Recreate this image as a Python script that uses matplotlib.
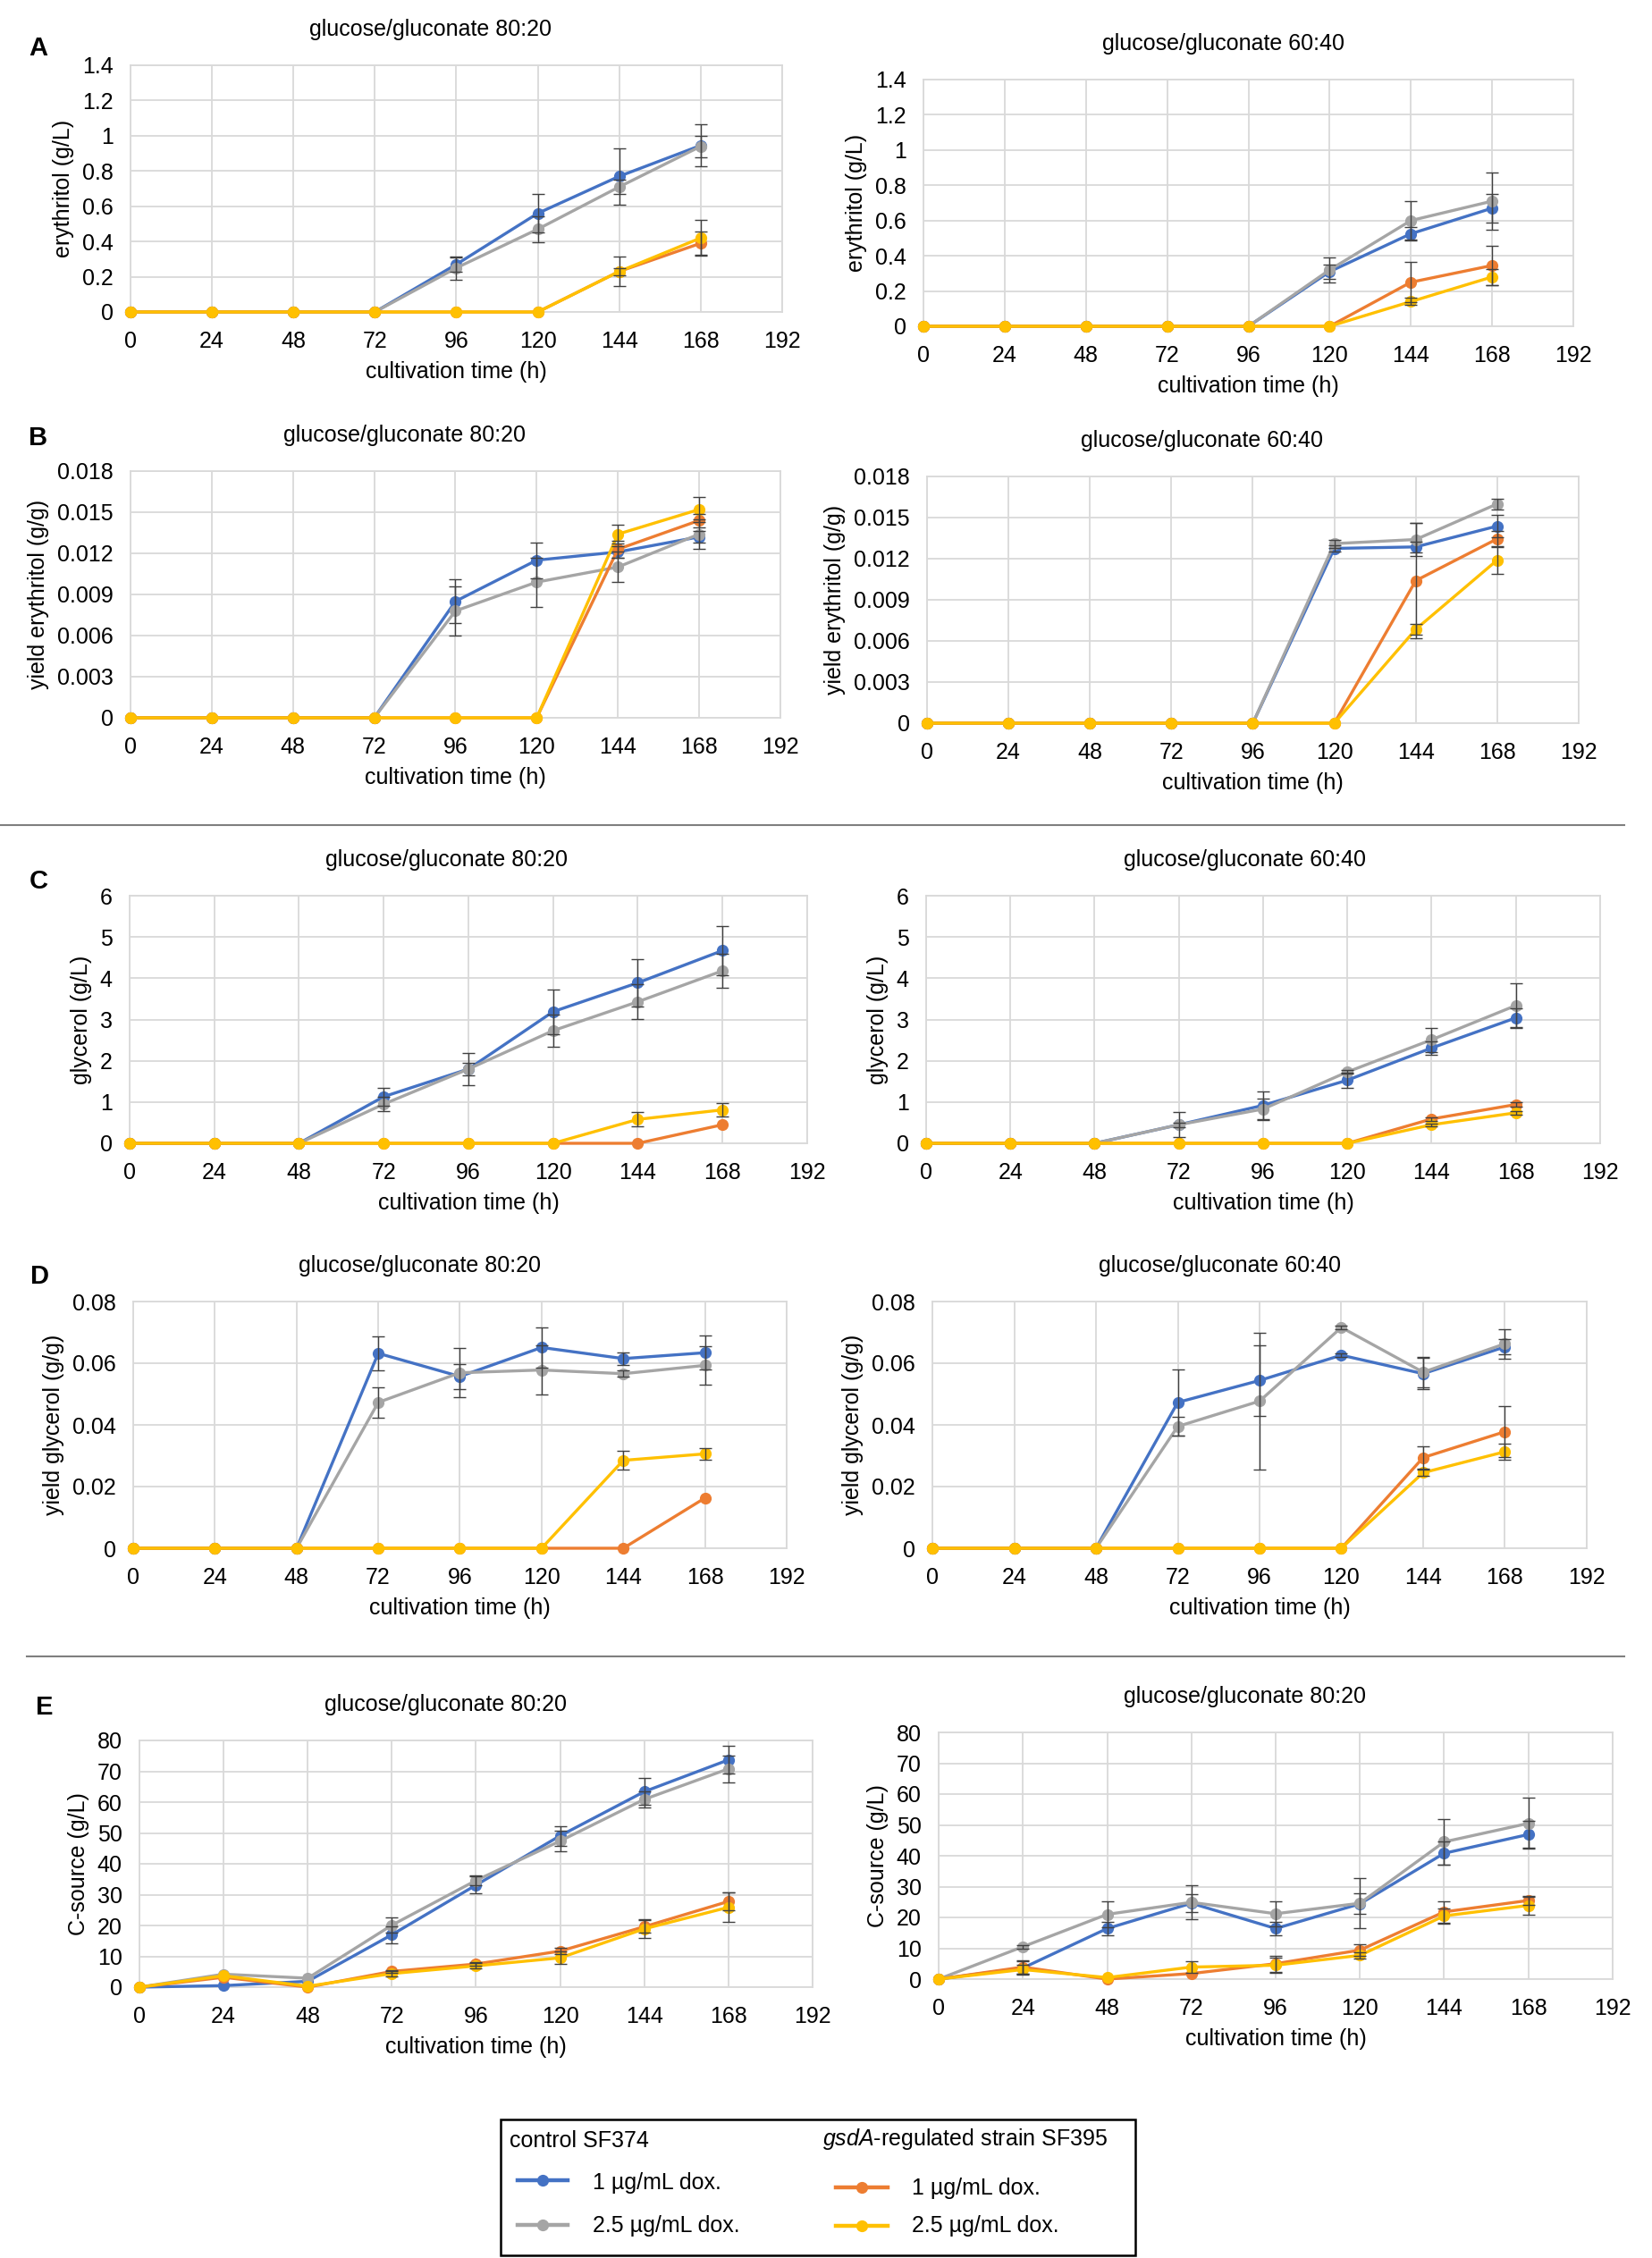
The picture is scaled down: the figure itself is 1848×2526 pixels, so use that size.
import numpy as np
import matplotlib
matplotlib.use('Agg')
import matplotlib.pyplot as plt
from matplotlib.lines import Line2D
from matplotlib.patches import Rectangle

plt.rcParams['font.family'] = ['Liberation Sans', 'DejaVu Sans']
plt.rcParams['mathtext.fontset'] = 'custom'
plt.rcParams['mathtext.it'] = 'Liberation Sans:italic'
plt.rcParams['mathtext.rm'] = 'Liberation Sans'

# ---- data: rows = control 1, control 2.5, gsdA 1, gsdA 2.5 (ug/mL dox.) ----
hours = [0, 24, 48, 72, 96, 120, 144, 168]
series_labels = ['1 µg/mL dox.', '2.5 µg/mL dox.', '1 µg/mL dox.', '2.5 µg/mL dox.']
colors = ['#4472C4', '#A5A5A5', '#ED7D31', '#FFC000']

ery_8020 = [[0, 0, 0, 0, 0.27, 0.56, 0.77, 0.945],
            [0, 0, 0, 0, 0.25, 0.47, 0.71, 0.94],
            [0, 0, 0, 0, 0, 0, 0.23, 0.39],
            [0, 0, 0, 0, 0, 0, 0.23, 0.42]]
ery_8020_sd = [[0, 0, 0, 0, 0.04, 0.11, 0.16, 0.12],
               [0, 0, 0, 0, 0.065, 0.075, 0.04, 0.06],
               [0, 0, 0, 0, 0, 0, 0.02, 0.065],
               [0, 0, 0, 0, 0, 0, 0.085, 0.10]]

ery_6040 = [[0, 0, 0, 0, 0, 0.31, 0.525, 0.67],
            [0, 0, 0, 0, 0, 0.32, 0.60, 0.71],
            [0, 0, 0, 0, 0, 0, 0.25, 0.345],
            [0, 0, 0, 0, 0, 0, 0.14, 0.28]]
ery_6040_sd = [[0, 0, 0, 0, 0, 0.04, 0.04, 0.08],
               [0, 0, 0, 0, 0, 0.07, 0.11, 0.16],
               [0, 0, 0, 0, 0, 0, 0.115, 0.11],
               [0, 0, 0, 0, 0, 0, 0.02, 0.045]]

yery_8020 = [[0, 0, 0, 0, 0.0085, 0.0115, 0.0121, 0.0132],
             [0, 0, 0, 0, 0.0078, 0.0099, 0.0110, 0.0134],
             [0, 0, 0, 0, 0, 0, 0.0123, 0.0144],
             [0, 0, 0, 0, 0, 0, 0.0134, 0.0152]]
yery_8020_sd = [[0, 0, 0, 0, 0.0016, 0.0013, 0.0004, 0.0004],
                [0, 0, 0, 0, 0.0018, 0.0018, 0.0011, 0.0011],
                [0, 0, 0, 0, 0, 0, 0.0006, 0.0005],
                [0, 0, 0, 0, 0, 0, 0.0007, 0.0009]]

yery_6040 = [[0, 0, 0, 0, 0, 0.01275, 0.01286, 0.01438],
             [0, 0, 0, 0, 0, 0.0131, 0.0134, 0.0160],
             [0, 0, 0, 0, 0, 0, 0.0104, 0.01345],
             [0, 0, 0, 0, 0, 0, 0.00685, 0.0119]]
yery_6040_sd = [[0, 0, 0, 0, 0, 0.0002, 0.0004, 0.0008],
                [0, 0, 0, 0, 0, 0.0003, 0.0012, 0.0004],
                [0, 0, 0, 0, 0, 0, 0.0042, 0.0006],
                [0, 0, 0, 0, 0, 0, 0.0004, 0.0010]]

gly_8020 = [[0, 0, 0, 1.13, 1.80, 3.19, 3.89, 4.67],
            [0, 0, 0, 0.95, 1.80, 2.73, 3.43, 4.18],
            [0, 0, 0, 0, 0, 0, 0, 0.45],
            [0, 0, 0, 0, 0, 0, 0.58, 0.81]]
gly_8020_sd = [[0, 0, 0, 0.22, 0.15, 0.54, 0.57, 0.59],
               [0, 0, 0, 0.18, 0.39, 0.39, 0.42, 0.42],
               [0, 0, 0, 0, 0, 0, 0, 0],
               [0, 0, 0, 0, 0, 0, 0.17, 0.16]]

gly_6040 = [[0, 0, 0, 0.45, 0.92, 1.53, 2.31, 3.04],
            [0, 0, 0, 0.45, 0.83, 1.73, 2.51, 3.34],
            [0, 0, 0, 0, 0, 0, 0.59, 0.94],
            [0, 0, 0, 0, 0, 0, 0.45, 0.74]]
gly_6040_sd = [[0, 0, 0, 0.05, 0.34, 0.18, 0.16, 0.22],
               [0, 0, 0, 0.30, 0.26, 0.05, 0.29, 0.54],
               [0, 0, 0, 0, 0, 0, 0.04, 0.05],
               [0, 0, 0, 0, 0, 0, 0.03, 0.04]]

ygly_8020 = [[0, 0, 0, 0.0632, 0.0557, 0.0651, 0.0615, 0.0634],
             [0, 0, 0, 0.0473, 0.0569, 0.0578, 0.0566, 0.0593],
             [0, 0, 0, 0, 0, 0, 0, 0.0163],
             [0, 0, 0, 0, 0, 0, 0.0285, 0.0306]]
ygly_8020_sd = [[0, 0, 0, 0.0055, 0.004, 0.0065, 0.002, 0.0055],
                [0, 0, 0, 0.005, 0.008, 0.008, 0.001, 0.0062],
                [0, 0, 0, 0, 0, 0, 0, 0],
                [0, 0, 0, 0, 0, 0, 0.003, 0.0019]]

ygly_6040 = [[0, 0, 0, 0.0473, 0.0544, 0.0626, 0.0566, 0.0653],
             [0, 0, 0, 0.0395, 0.0477, 0.0716, 0.0571, 0.0663],
             [0, 0, 0, 0, 0, 0, 0.0294, 0.0378],
             [0, 0, 0, 0, 0, 0, 0.0245, 0.0313]]
ygly_6040_sd = [[0, 0, 0, 0.0108, 0.0115, 0.0005, 0.005, 0.0025],
                [0, 0, 0, 0.003, 0.0223, 0.0005, 0.005, 0.0048],
                [0, 0, 0, 0, 0, 0, 0.0036, 0.0082],
                [0, 0, 0, 0, 0, 0, 0.001, 0.0025]]

csrc_8020 = [[0, 0.5, 1.9, 17.0, 33.1, 49.1, 63.4, 73.7],
             [0, 4.2, 2.9, 20.1, 34.6, 47.4, 60.9, 70.8],
             [0, 3.2, 0, 5.1, 7.5, 11.7, 19.6, 27.8],
             [0, 3.7, 0.3, 4.4, 6.9, 9.5, 18.9, 25.9]]
csrc_8020_sd = [[0, 0, 0, 2.7, 2.7, 3.2, 4.3, 4.5],
                [0, 0, 0, 2.4, 1.5, 3.2, 2.5, 4.3],
                [0, 0, 0, 0.5, 0.5, 1.0, 2.0, 2.9],
                [0, 0, 0, 0.8, 0.8, 2.0, 3.0, 4.8]]

csrc_8020b = [[0, 3.6, 16.4, 24.6, 16.4, 24.4, 40.8, 46.9],
              [0, 10.5, 21.0, 24.9, 21.2, 24.6, 44.5, 50.5],
              [0, 3.9, 0, 1.8, 5.0, 9.4, 21.8, 25.5],
              [0, 3.1, 0.5, 3.9, 4.5, 7.7, 20.5, 23.9]]
csrc_8020b_sd = [[0, 2.2, 2.2, 2.9, 2.2, 3.3, 3.8, 4.4],
                 [0, 0.5, 4.2, 5.5, 4.0, 8.2, 7.4, 8.2],
                 [0, 2.2, 0, 0, 2.6, 1.8, 3.4, 1.5],
                 [0, 1.5, 0, 1.9, 2.4, 1.0, 2.4, 2.9]]

# ---- layout (figure pixels) ----
W, H = 1849, 2526
FS = 18
fig = plt.figure(figsize=(W / 100, H / 100), dpi=100)

panels = [
    # data, sd, ylabel, ymax, ystep, title, (left, top, right, bottom), title x
    (ery_8020, ery_8020_sd, 'erythritol (g/L)', 1.4, 0.2, 'glucose/gluconate 80:20', (146, 73, 875, 349), 481),
    (ery_6040, ery_6040_sd, 'erythritol (g/L)', 1.4, 0.2, 'glucose/gluconate 60:40', (1033, 89, 1760, 365), 1369),
    (yery_8020, yery_8020_sd, 'yield erythritol (g/g)', 0.018, 0.003, 'glucose/gluconate 80:20', (146, 527, 873, 803), 453),
    (yery_6040, yery_6040_sd, 'yield erythritol (g/g)', 0.018, 0.003, 'glucose/gluconate 60:40', (1037, 533, 1766, 809), 1345),
    (gly_8020, gly_8020_sd, 'glycerol (g/L)', 6, 1, 'glucose/gluconate 80:20', (145, 1002, 903, 1279), 500),
    (gly_6040, gly_6040_sd, 'glycerol (g/L)', 6, 1, 'glucose/gluconate 60:40', (1036, 1002, 1790, 1279), 1393),
    (ygly_8020, ygly_8020_sd, 'yield glycerol (g/g)', 0.08, 0.02, 'glucose/gluconate 80:20', (149, 1456, 880, 1732), 470),
    (ygly_6040, ygly_6040_sd, 'yield glycerol (g/g)', 0.08, 0.02, 'glucose/gluconate 60:40', (1043, 1456, 1775, 1732), 1365),
    (csrc_8020, csrc_8020_sd, 'C-source (g/L)', 80, 10, 'glucose/gluconate 80:20', (156, 1947, 909, 2223), 499),
    (csrc_8020b, csrc_8020b_sd, 'C-source (g/L)', 80, 10, 'glucose/gluconate 80:20', (1050, 1938, 1804, 2214), 1393),
]

grid_col = '#D9D9D9'
x = np.array(hours)

for data, sd, ylab, ymax, ystep, title, (l, t, r, b), tx in panels:
    ax = fig.add_axes([l / W, 1 - b / H, (r - l) / W, (b - t) / H])
    for vals, errs, c in zip(data, sd, colors):
        vals = np.array(vals)
        errs = np.array(errs)
        ax.plot(x, vals, color=c, lw=2.4, marker='o', ms=8.5, clip_on=False, zorder=3)
        m = errs > 0
        if m.any():
            ax.errorbar(x[m], vals[m], yerr=errs[m], fmt='none', ecolor='#404040',
                        elinewidth=1, capsize=5, capthick=1, zorder=4, clip_on=False)
    ax.set_xlim(0, 192)
    ax.set_ylim(0, ymax)
    ax.set_xticks(np.arange(0, 193, 24))
    yt = np.arange(0, ymax + ystep / 2, ystep)
    ax.set_yticks(yt)
    ax.set_yticklabels(['{:g}'.format(round(v, 6)) for v in yt])
    ax.tick_params(length=0, labelsize=FS, colors='black')
    ax.tick_params(axis='x', pad=15)
    ax.tick_params(axis='y', pad=14)
    ax.grid(True, color=grid_col, lw=1.3)
    ax.set_axisbelow(True)
    for s in ax.spines.values():
        s.set_color(grid_col)
        s.set_linewidth(1.3)
    ax.set_xlabel('cultivation time (h)', fontsize=FS, labelpad=7)
    ax.set_ylabel(ylab, fontsize=FS, labelpad=6)
    fig.text(tx / W, 1 - (t - 40) / H, title, fontsize=FS, ha='center', va='center')

# panel letters
for letter, (lx, ly) in zip('ABCDE', [(43, 54), (43, 490), (43, 986), (45, 1428), (50, 1910)]):
    fig.text(lx / W, 1 - ly / H, letter, fontsize=21, fontweight='bold', ha='center', va='center')

# separator lines
for (x0, x1, yy) in [(0, 1817, 923), (30, 1817, 1853)]:
    fig.add_artist(Line2D([x0 / W, x1 / W], [1 - yy / H, 1 - yy / H], color='#7F7F7F', lw=1.5))

# legend box
fig.add_artist(Rectangle((560 / W, 1 - 2523 / H), 710 / W, 152 / H, fill=False,
                         edgecolor='black', lw=1.8, transform=fig.transFigure))
fig.text(570 / W, 1 - 2395 / H, 'control SF374', fontsize=FS, ha='left', va='center')
fig.text(920 / W, 1 - 2393 / H, r'$\it{gsdA}$-regulated strain SF395', fontsize=FS, ha='left', va='center')
legend_pos = [(579, 635, 2439, 663, 2442), (579, 635, 2489, 663, 2490),
              (935, 993, 2447, 1020, 2448), (935, 993, 2490, 1020, 2490)]
for (lx0, lx1, ly, tx0, ty), c, lab in zip(legend_pos, colors, series_labels):
    fig.add_artist(Line2D([lx0 / W, lx1 / W], [1 - ly / H, 1 - ly / H], color=c, lw=3.2))
    fig.add_artist(Line2D([(lx0 + lx1) / 2 / W], [1 - ly / H], color=c, marker='o', ms=8.5, lw=0))
    fig.text(tx0 / W, 1 - ty / H, lab, fontsize=FS, ha='left', va='center')

fig.savefig('out.png', dpi=100, facecolor='white')
